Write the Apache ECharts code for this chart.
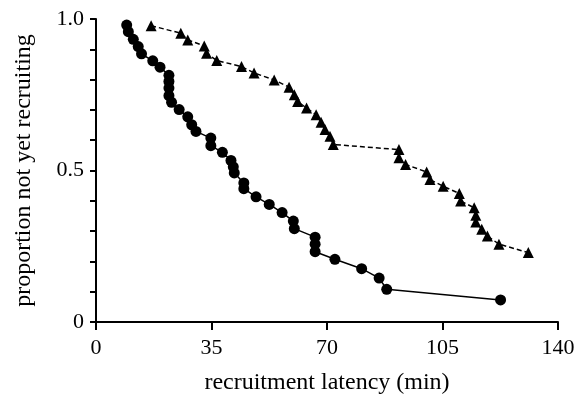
<!DOCTYPE html>
<html>
<head>
<meta charset="utf-8">
<script src="https://cdn.jsdelivr.net/npm/echarts@6/dist/echarts.min.js"></script>
<style>html,body{margin:0;padding:0;background:#fff;}#chart{width:582px;height:400px;}</style>
</head>
<body>
<div id="chart"></div>
<script>
// Circles series (latency in min, proportion not yet recruiting)
const circleX = [9.3, 9.8, 11.3, 12.8, 13.8, 17.2, 19.4, 22.1, 22.1, 22.1, 22.1, 22.9, 25.2, 27.8, 29.0, 30.3, 34.8, 34.8, 38.3, 40.9, 41.6, 41.9, 44.8, 44.8, 48.5, 52.5, 56.4, 59.8, 60.1, 66.4, 66.4, 66.4, 72.4, 80.5, 85.8, 88.1, 122.6];
const circleY = [0.980, 0.958, 0.933, 0.909, 0.885, 0.862, 0.841, 0.814, 0.794, 0.772, 0.747, 0.725, 0.701, 0.677, 0.651, 0.629, 0.607, 0.582, 0.560, 0.533, 0.512, 0.492, 0.459, 0.440, 0.413, 0.388, 0.361, 0.333, 0.308, 0.280, 0.257, 0.232, 0.207, 0.176, 0.145, 0.108, 0.073];
// Triangles series
const triX = [16.7, 25.7, 27.8, 32.8, 33.5, 36.6, 44.1, 47.9, 54.0, 58.5, 60.1, 61.1, 63.8, 66.7, 68.2, 69.4, 70.9, 71.9, 91.8, 91.8, 93.8, 100.2, 101.2, 105.2, 110.1, 110.5, 114.6, 115.1, 115.1, 116.9, 118.6, 122.1, 131.0];
const triY = [0.978, 0.953, 0.931, 0.911, 0.887, 0.863, 0.843, 0.822, 0.799, 0.775, 0.750, 0.728, 0.706, 0.684, 0.659, 0.635, 0.613, 0.586, 0.569, 0.542, 0.520, 0.495, 0.470, 0.448, 0.424, 0.399, 0.377, 0.352, 0.330, 0.306, 0.284, 0.257, 0.229];
const xTicks = [0, 35, 70, 105, 140];
const yLabels = {0: '0', 0.5: '0.5', 1: '1.0'};

const zip = (a, b) => a.map((v, i) => [v, b[i]]);
const FONT = 'Liberation Serif';
const chart = echarts.init(document.getElementById('chart'), null, {renderer: 'canvas'});
chart.setOption({
  animation: false,
  backgroundColor: '#fff',
  grid: {left: 96, right: 24, top: 19, bottom: 77, containLabel: false},
  xAxis: {
    type: 'value', min: xTicks[0], max: xTicks[xTicks.length - 1], interval: xTicks[1] - xTicks[0],
    name: 'recruitment latency (min)', nameLocation: 'middle', nameGap: 49,
    nameTextStyle: {fontFamily: FONT, fontSize: 24, color: '#000'},
    axisLine: {show: true, lineStyle: {color: '#000', width: 2}},
    axisTick: {show: true, length: 8, lineStyle: {color: '#000', width: 2}},
    axisLabel: {fontFamily: FONT, fontSize: 22, color: '#000', margin: 15},
    splitLine: {show: false}
  },
  yAxis: {
    type: 'value', min: 0, max: 1, interval: 0.1,
    name: 'proportion not yet recruiting', nameLocation: 'middle', nameGap: 60,
    nameTextStyle: {fontFamily: FONT, fontSize: 24, color: '#000'},
    axisLine: {show: true, lineStyle: {color: '#000', width: 2}},
    axisTick: {show: true, length: 6, lineStyle: {color: '#000', width: 2}},
    axisLabel: {fontFamily: FONT, fontSize: 22, color: '#000', margin: 12,
      formatter: v => { const k = Math.round(v * 10) / 10; return (k in yLabels) ? yLabels[k] : ''; }},
    splitLine: {show: false}
  },
  series: [
    {type: 'line', data: zip(circleX, circleY), symbol: 'circle', symbolSize: 11,
      itemStyle: {color: '#000'}, lineStyle: {color: '#000', width: 1.5}},
    {type: 'line', data: zip(triX, triY), symbol: 'triangle', symbolSize: 11,
      itemStyle: {color: '#000'}, lineStyle: {color: '#000', width: 1.5, type: [5, 3]}}
  ]
});
</script>
</body>
</html>
